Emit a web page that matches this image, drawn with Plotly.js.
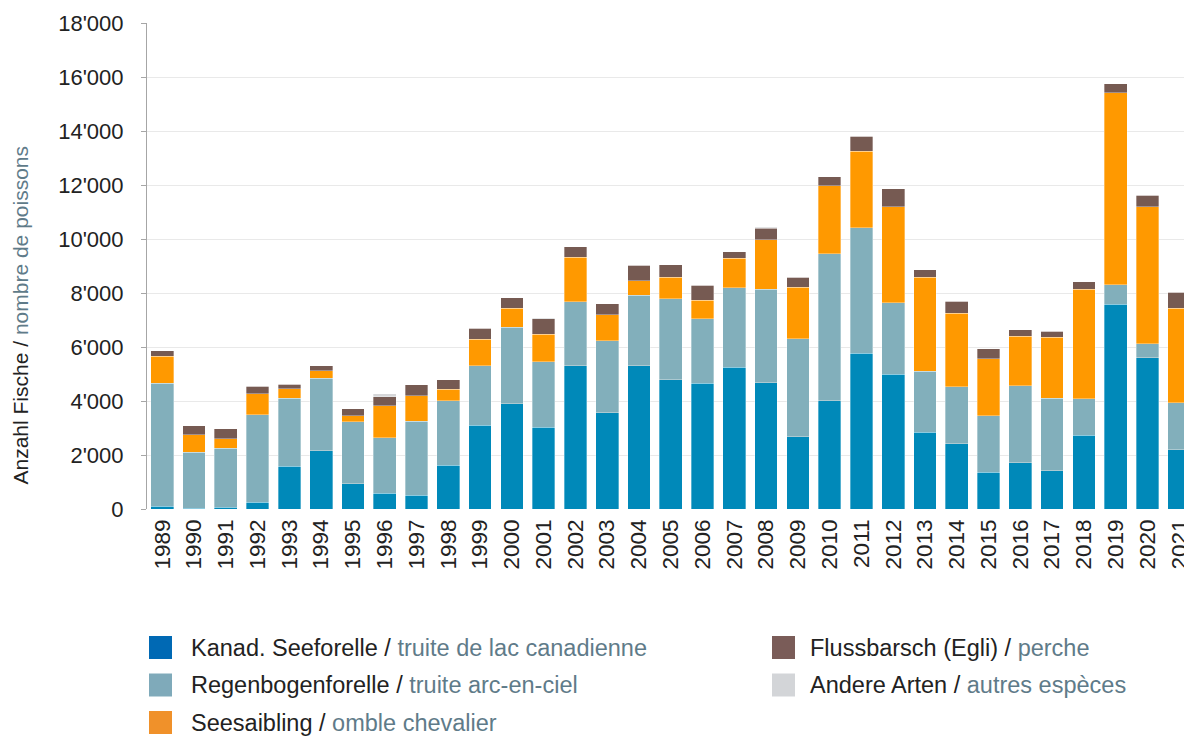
<!DOCTYPE html>
<html>
<head>
<meta charset="utf-8">
<script src="https://cdn.plot.ly/plotly-3.0.1.min.js"></script>
<style>
  html, body { margin: 0; padding: 0; background: #ffffff; }
  #chart { width: 1184px; height: 736px; }
</style>
</head>
<body>
<div id="chart"></div>
<script>
// ---- Data ----
const years = ["1989","1990","1991","1992","1993","1994","1995","1996","1997","1998","1999",
               "2000","2001","2002","2003","2004","2005","2006","2007","2008","2009","2010",
               "2011","2012","2013","2014","2015","2016","2017","2018","2019","2020","2021"];

const seeforelle = [110, 25, 60, 250, 1580, 2160, 940, 590, 510, 1620, 3110,
                    3900, 3030, 5300, 3570, 5300, 4780, 4660, 5250, 4670, 2670, 4010,
                    5770, 4990, 2840, 2420, 1370, 1720, 1420, 2730, 7590, 5610, 2190];

const regenbogen = [4540, 2080, 2190, 3240, 2520, 2680, 2300, 2050, 2740, 2390, 2190,
                    2830, 2430, 2370, 2670, 2620, 3010, 2380, 2940, 3470, 3640, 5440,
                    4640, 2650, 2260, 2110, 2080, 2840, 2680, 1350, 720, 510, 1740];

const seesaibling = [1000, 650, 360, 770, 360, 280, 220, 1190, 950, 430, 980,
                     700, 1020, 1660, 960, 540, 790, 690, 1090, 1830, 1900, 2520,
                     2840, 3550, 3480, 2720, 2110, 1830, 2270, 4050, 7110, 5070, 3500];

const flussbarsch = [210, 320, 360, 280, 160, 190, 250, 320, 410, 340, 420,
                     390, 570, 390, 410, 570, 470, 560, 250, 420, 380, 330,
                     560, 670, 280, 440, 370, 250, 220, 280, 330, 430, 590];

const andere = [0, 0, 0, 0, 0, 0, 0, 110, 0, 0, 0,
                0, 40, 0, 0, 0, 0, 0, 0, 50, 0, 0,
                0, 0, 0, 0, 0, 0, 0, 0, 0, 0, 0];

const seriesDe = ["Kanad. Seeforelle", "Regenbogenforelle", "Seesaibling", "Flussbarsch (Egli)", "Andere Arten"];
const seriesFr = ["truite de lac canadienne", "truite arc-en-ciel", "omble chevalier", "perche", "autres espèces"];
const yTitleDe = "Anzahl Fische";
const yTitleFr = "nombre de poissons";

// ---- Styles ----
const barColors    = ["#0089b9", "#82afbb", "#ff9900", "#765a52", "#d6d7d9"];
const legendColors = ["#0069b4", "#7faaba", "#f0912a", "#7a5c58", "#d3d5d8"];
const FONT = "'Liberation Sans', Arial, Helvetica, sans-serif";
const DARK = "#222222";
const FRC  = "#5f7b89";

const values = [seeforelle, regenbogen, seesaibling, flussbarsch, andere];

const traces = values.map((v, i) => ({
  type: "bar",
  x: years,
  y: v,
  name: seriesDe[i] + " / " + seriesFr[i],
  marker: { color: barColors[i], line: { color: "rgba(255,255,255,0.55)", width: 0.6 } },
  showlegend: false,
  hoverinfo: "x+y+name"
}));

// Plot area geometry in pixels (for layout helpers)
const W = 1184, H = 736;
const mL = 147, mR = 0, mT = 23, mB = 227;
const pw = W - mL - mR, ph = H - mT - mB;
const px = x => (x - mL) / pw;
const py = y => (H - mB - y) / ph;

// Manual legend (two columns)
const legendPos = [
  { sx: 149, tx: 191, cy: 647.5 },
  { sx: 149, tx: 191, cy: 685 },
  { sx: 149, tx: 191, cy: 722.5 },
  { sx: 772, tx: 810, cy: 647.5 },
  { sx: 772, tx: 810, cy: 685 }
];
const shapes = [];
const annotations = [];
legendPos.forEach((p, i) => {
  shapes.push({
    type: "rect", xref: "paper", yref: "paper",
    x0: px(p.sx), x1: px(p.sx + 23),
    y0: py(p.cy + 11.5), y1: py(p.cy - 11.5),
    fillcolor: legendColors[i], line: { width: 0 }
  });
  annotations.push({
    xref: "paper", yref: "paper", x: px(p.tx - 2), y: py(p.cy),
    xanchor: "left", yanchor: "middle", showarrow: false,
    text: seriesDe[i] + ' / <span style="color:' + FRC + '">' + seriesFr[i] + '</span>',
    font: { family: FONT, size: 23.5, color: DARK }
  });
});

// Y-axis title as rotated annotation
annotations.push({
  xref: "paper", yref: "paper", x: px(20), y: py(315.5),
  xanchor: "center", yanchor: "middle", showarrow: false, textangle: -90,
  text: yTitleDe + ' / <span style="color:' + FRC + '">' + yTitleFr + '</span>',
  font: { family: FONT, size: 21, color: DARK }
});

const layout = {
  width: W, height: H,
  margin: { l: mL, r: mR, t: mT, b: mB, pad: 0 },
  paper_bgcolor: "#ffffff",
  plot_bgcolor: "#ffffff",
  barmode: "stack",
  bargap: 0.286,
  separators: ".'",
  font: { family: FONT, size: 22, color: DARK },
  xaxis: {
    type: "category",
    range: [-0.48, 32.15],
    tickangle: -90,
    showgrid: false,
    showline: false,
    zeroline: false,
    ticks: "",
    ticklabelstandoff: 5,
    tickfont: { family: FONT, size: 22.5, color: DARK },
    fixedrange: true
  },
  yaxis: {
    range: [0, 18000],
    dtick: 2000,
    tickformat: ",d",
    showgrid: true,
    gridcolor: "#e9e9e9",
    gridwidth: 1,
    showline: true,
    linecolor: "#a6a6a6",
    linewidth: 1,
    ticks: "outside",
    ticklen: 5,
    tickcolor: "#a6a6a6",
    ticklabelstandoff: 13,
    zeroline: false,
    tickfont: { family: FONT, size: 22, color: DARK },
    fixedrange: true
  },
  shapes: shapes,
  annotations: annotations
};

Plotly.newPlot("chart", traces, layout, { displayModeBar: false, staticPlot: true });
</script>
</body>
</html>
